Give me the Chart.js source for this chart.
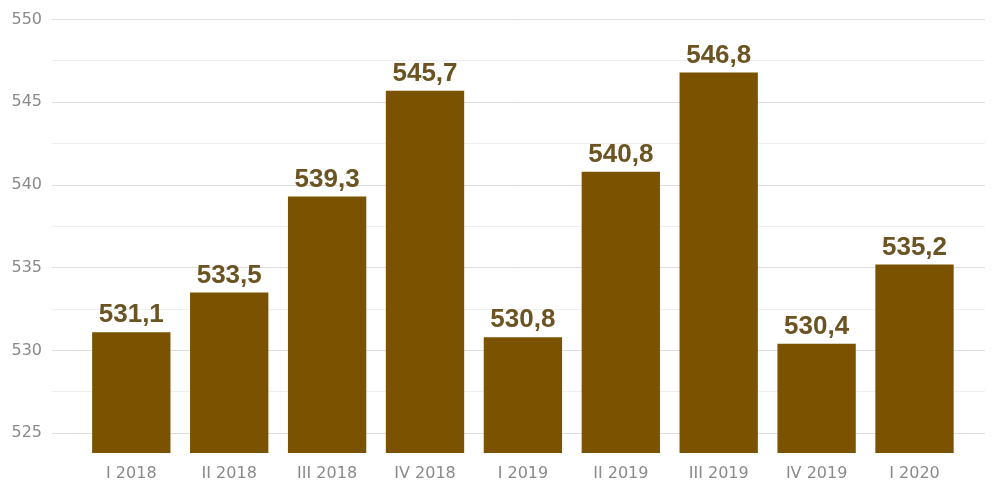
<!DOCTYPE html>
<html>
<head>
<meta charset="utf-8">
<script src="https://cdn.jsdelivr.net/npm/chart.js@4/dist/chart.umd.min.js"></script>
<style>
  html,body{margin:0;padding:0;background:#fff;}
  #wrap{width:994px;height:480px;position:relative;}
</style>
</head>
<body>
<div id="wrap"><canvas id="c"></canvas></div>
<script>
const quarters = ['I 2018','II 2018','III 2018','IV 2018','I 2019','II 2019','III 2019','IV 2019','I 2020'];
const values = [531.1, 533.5, 539.3, 545.7, 530.8, 540.8, 546.8, 530.4, 535.2];
const yTicks = [525, 527.5, 530, 532.5, 535, 537.5, 540, 542.5, 545, 547.5, 550];

const barColor = '#7a5200';
const labelColor = '#6b5422';
const tickFont = {family: '"DejaVu Sans", sans-serif', size: 16};

const valueLabels = {
  id: 'valueLabels',
  afterDatasetsDraw(chart){
    const ctx = chart.ctx;
    const meta = chart.getDatasetMeta(0);
    ctx.save();
    ctx.font = 'bold 26px "Liberation Sans", Arial, sans-serif';
    ctx.fillStyle = labelColor;
    ctx.textAlign = 'center';
    ctx.textBaseline = 'bottom';
    meta.data.forEach((bar,i)=>{
      const txt = values[i].toFixed(1).replace('.', ',');
      ctx.fillText(txt, bar.x, bar.y - 4);
    });
    ctx.restore();
  }
};

new Chart(document.getElementById('c').getContext('2d'), {
  type: 'bar',
  data: {
    datasets: [{
      data: values.map((v,i)=>({x:i, y:v})),
      backgroundColor: barColor,
      borderWidth: 0,
      barPercentage: 0.8,
      categoryPercentage: 1
    }]
  },
  options: {
    responsive: true,
    maintainAspectRatio: false,
    animation: false,
    layout: {padding: {top: 18, right: 9, left: 0, bottom: 0}},
    plugins: {legend: {display:false}, tooltip: {enabled:false}},
    scales: {
      x: {
        type: 'linear',
        offset: false,
        min: -0.81,
        max: 8.72,
        grid: {display:false},
        border: {display:false},
        afterBuildTicks: s => { s.ticks = quarters.map((q,i)=>({value:i})); },
        afterFit: s => { s.height = 27; },
        ticks: {
          autoSkip: false,
          maxRotation: 0,
          padding: 3,
          color: '#8a8a8a',
          font: tickFont,
          callback: v => quarters[v] || ''
        }
      },
      y: {
        min: 523.8,
        max: 550,
        border: {display:false},
        afterBuildTicks: s => { s.ticks = yTicks.map(v=>({value:v})); },
        afterFit: s => { s.width = 52; },
        grid: {
          drawTicks: false,
          lineWidth: 1,
          color: c => (c.tick && c.tick.value % 5 === 0) ? '#dedede' : '#efefef'
        },
        ticks: {
          padding: 10,
          color: '#8a8a8a',
          font: tickFont,
          callback: v => (v % 5 === 0) ? String(v) : ''
        }
      }
    }
  },
  plugins: [valueLabels]
});
</script>
</body>
</html>
